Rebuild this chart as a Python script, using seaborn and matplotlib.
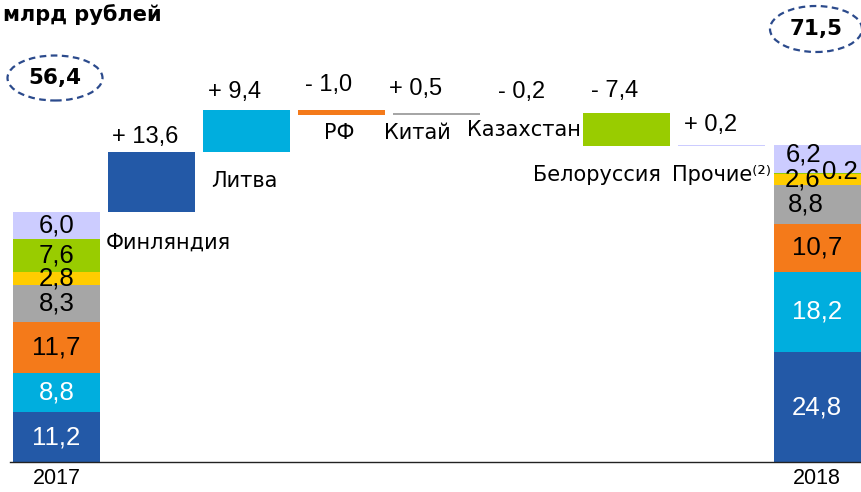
import matplotlib
matplotlib.use("Agg")
import matplotlib.pyplot as plt
from matplotlib.patches import Ellipse
import seaborn as sns

# Export structure, bn roubles
columns = ["2017", "Финляндия", "Литва", "РФ", "Китай", "Казахстан",
           "Белоруссия", "Прочие⁽²⁾", "2018"]
partners = ["Финляндия", "Литва", "РФ", "Китай", "Казахстан", "Белоруссия", "Прочие"]
values_2017 = [11.2, 8.8, 11.7, 8.3, 2.8, 7.6, 6.0]
changes = [13.6, 9.4, -1.0, 0.5, -0.2, -7.4, 0.2]
values_2018 = [24.8, 18.2, 10.7, 8.8, 2.6, 0.2, 6.2]
unit_label = "млрд рублей"

colors = ["#2359a7", "#00aede", "#f47a1a", "#a6a6a6", "#ffcc00", "#99cc00", "#ccccff"]
text_colors = ["white", "white", "black", "black", "black", "black", "black"]

sns.set_theme(style="white")
plt.rcParams["font.family"] = ["Liberation Sans", "DejaVu Sans"]

W, H = 862, 492
fig = plt.figure(figsize=(W / 100, H / 100), dpi=100)
ax = fig.add_axes([10 / W, 30 / H, 852 / W, 462 / H])

n = len(columns)
last = n - 1


def cumulative(vals):
    out, s = [], 0.0
    for v in vals:
        out.append(s)
        s += v
    return out


base_2017 = cumulative(values_2017)
base_2018 = cumulative(values_2018)

# floating bars of the bridge
running = sum(values_2017)
float_bottom, float_top = [], []
for c in changes:
    lo, hi = min(running, running + c), max(running, running + c)
    float_bottom.append(lo)
    float_top.append(hi)
    running += c

for k in range(len(partners)):
    heights = [0.0] * n
    bottoms = [0.0] * n
    heights[0], bottoms[0] = values_2017[k], base_2017[k]
    heights[k + 1], bottoms[k + 1] = abs(changes[k]), float_bottom[k]
    heights[last], bottoms[last] = values_2018[k], base_2018[k]
    sns.barplot(x=columns, y=heights, order=columns, bottom=bottoms,
                color=colors[k], saturation=1, width=0.915, linewidth=0, ax=ax)

ax.set_xlim(-0.489, 8.473)
ax.set_ylim(0, 104.3)

for s in ["left", "right", "top"]:
    ax.spines[s].set_visible(False)
ax.spines["bottom"].set_color("#222222")
ax.spines["bottom"].set_linewidth(1.0)
ax.set_yticks([])
ax.set_xticks([0, last])
ax.set_xticklabels([columns[0], columns[last]], fontsize=15.5, color="black")
ax.tick_params(axis="x", length=0, pad=4)
ax.set_xlabel("")
ax.set_ylabel("")


def fmt(v):
    return f"{v:.1f}".replace(".", ",")


# values inside the stacked columns
for k in range(len(partners)):
    ax.annotate(fmt(values_2017[k]), (0, base_2017[k] + values_2017[k] / 2),
                ha="center", va="center", fontsize=18.5, color=text_colors[k])

shift_2018 = {3: (-11, 0), 4: (-14, 0), 5: (23, 1), 6: (-13, 5)}
for k in range(len(partners)):
    txt = fmt(values_2018[k])
    if k == 5:
        txt = f"{values_2018[k]:.1f}"
    dx, dy = shift_2018.get(k, (0, 0))
    ax.annotate(txt, (last, base_2018[k] + values_2018[k] / 2),
                xytext=(dx, dy), textcoords="offset pixels",
                ha="center", va="center", fontsize=18.5, color=text_colors[k])

# change labels above the floating bars, names below them
change_offsets = [(-6, 15), (-12, 18), (-13, 25), (-21, 24), (-10, 21), (-12, 22), (-11, 20)]
name_offsets = [(17, -30), (-2, -29), (-2, -18), (-19, -18), (-8, -17), (-30, -29), (0, -29)]
for k, c in enumerate(changes):
    sign = "+" if c > 0 else "-"
    ax.annotate(f"{sign} {fmt(abs(c))}", (k + 1, float_top[k]),
                xytext=change_offsets[k], textcoords="offset pixels",
                ha="center", va="center", fontsize=17, color="black")
    ax.annotate(columns[k + 1], (k + 1, float_bottom[k]),
                xytext=name_offsets[k], textcoords="offset pixels",
                ha="center", va="center", fontsize=15, color="black",
                family=["DejaVu Sans"])

# totals in dashed ellipses
total_2017 = sum(values_2017)
total_2018 = sum(values_2018)
for (cx, cy, ew, eh), tot in [((55, 78, 95, 45), total_2017),
                              ((816, 29, 92, 46), total_2018)]:
    e = Ellipse((cx / W, 1 - cy / H), ew / W, eh / H, transform=fig.transFigure,
                fill=False, edgecolor="#2b4a8c", linewidth=1.6, linestyle=(0, (3, 2)))
    fig.patches.append(e)
    fig.text(cx / W, 1 - cy / H, fmt(tot), ha="center", va="center",
             fontsize=15.5, fontweight="bold", family=["DejaVu Sans"], color="black")

fig.text(3 / W, 1 - 15 / H, unit_label, ha="left", va="center", fontsize=15,
         fontweight="bold", family=["DejaVu Sans"], color="black")

fig.savefig("out.png", dpi=100)
